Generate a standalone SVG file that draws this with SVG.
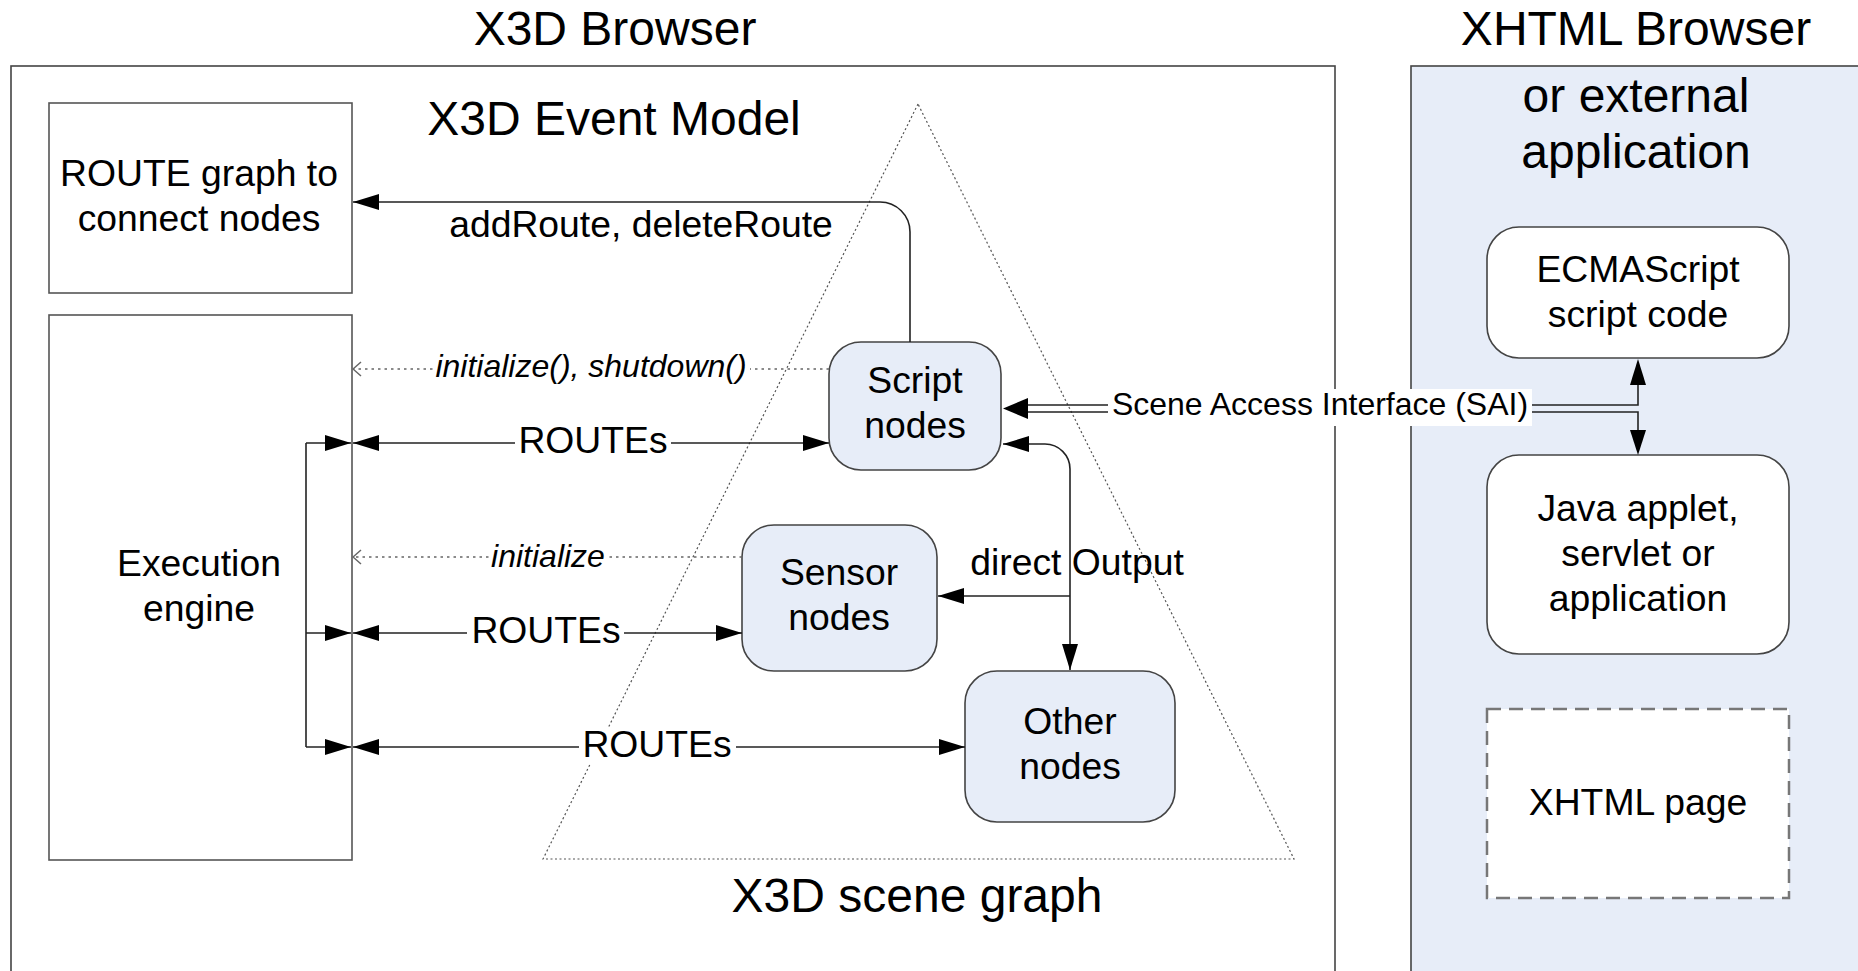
<svg xmlns="http://www.w3.org/2000/svg" width="1858" height="971" viewBox="0 0 1858 971">
<style>
text{font-family:"Liberation Sans",Arial,sans-serif;fill:#000}
.title{font-size:48px}
.node{font-size:37.3px;text-anchor:middle}
.lbl{font-size:37.3px;text-anchor:middle}
.it{font-size:32px;font-style:italic;text-anchor:middle}
.box{fill:#fff;stroke:#555;stroke-width:1.6}
.rnode{fill:#e7edf8;stroke:#444;stroke-width:1.6}
.wnode{fill:#fff;stroke:#444;stroke-width:1.6}
.ln{fill:none;stroke:#222;stroke-width:1.6}
.dot{fill:none;stroke:#666;stroke-width:1.5;stroke-dasharray:2.5,4}
.bg{fill:#fff}
</style>
<defs>
<marker id="ah" markerUnits="userSpaceOnUse" markerWidth="26" markerHeight="16" refX="26" refY="8" orient="auto-start-reverse" viewBox="0 0 26 16">
<path d="M0,0 L26,8 L0,16 Z" fill="#000"/>
</marker>
<marker id="open" markerUnits="userSpaceOnUse" markerWidth="10" markerHeight="16" refX="9" refY="8" orient="auto" viewBox="0 0 10 16">
<path d="M1,1 L9,8 L1,15" fill="none" stroke="#666" stroke-width="1.5"/>
</marker>
</defs>

<g id="frames">
<rect x="11" y="66" width="1324" height="940" fill="#fff" stroke="#444" stroke-width="1.6"/>
<rect x="1411" y="66" width="470" height="940" fill="#e7edf8" stroke="#444" stroke-width="1.6"/>
<text class="title" x="615" y="45" text-anchor="middle">X3D Browser</text>
<text class="title" x="1636" y="45" text-anchor="middle">XHTML Browser</text>
<text class="title" x="1636" y="112" text-anchor="middle" font-size="47">or external</text>
<text class="title" x="1636" y="168" text-anchor="middle" font-size="47">application</text>
<text class="title" x="614" y="135" text-anchor="middle">X3D Event Model</text>
</g>

<g id="scene-graph">
<polygon points="918,104 543,859 1294,859" fill="none" stroke="#555" stroke-width="1.2" stroke-dasharray="2,2.5"/>
<text x="917" y="912" text-anchor="middle" font-size="48">X3D scene graph</text>
</g>

<g id="route-graph">
<rect class="box" x="49" y="103" width="303" height="190"/>
<text class="node" x="199" y="186">ROUTE graph to</text>
<text class="node" x="199" y="231">connect nodes</text>
</g>

<g id="execution-engine">
<rect class="box" x="49" y="315" width="303" height="545"/>
<text class="node" x="199" y="576">Execution</text>
<text class="node" x="199" y="621">engine</text>
</g>

<g id="script-nodes">
<rect class="rnode" x="829" y="342" width="172" height="128" rx="32"/>
<text class="node" x="915" y="393">Script</text>
<text class="node" x="915" y="438">nodes</text>
</g>

<g id="sensor-nodes">
<rect class="rnode" x="742" y="525" width="195" height="146" rx="32"/>
<text class="node" x="839" y="585">Sensor</text>
<text class="node" x="839" y="630">nodes</text>
</g>

<g id="other-nodes">
<rect class="rnode" x="965" y="671" width="210" height="151" rx="32"/>
<text class="node" x="1070" y="734">Other</text>
<text class="node" x="1070" y="779">nodes</text>
</g>

<g id="ecmascript">
<rect class="wnode" x="1487" y="227" width="302" height="131" rx="32"/>
<text class="node" x="1638" y="282">ECMAScript</text>
<text class="node" x="1638" y="327">script code</text>
</g>

<g id="java">
<rect class="wnode" x="1487" y="455" width="302" height="199" rx="32"/>
<text class="node" x="1638" y="521">Java applet,</text>
<text class="node" x="1638" y="566">servlet or</text>
<text class="node" x="1638" y="611">application</text>
</g>

<g id="xhtml-page">
<rect x="1487" y="709" width="302" height="189" fill="#fff" stroke="#777" stroke-width="2.5" stroke-dasharray="14,8"/>
<text class="node" x="1638" y="815" font-size="38">XHTML page</text>
</g>

<g id="connectors">
<path class="ln" d="M306,443 V747"/>
<path class="ln" d="M306,443 H351" marker-end="url(#ah)"/>
<path class="ln" d="M306,633 H351" marker-end="url(#ah)"/>
<path class="ln" d="M306,747 H351" marker-end="url(#ah)"/>
<path class="ln" d="M353,443 H829" marker-start="url(#ah)" marker-end="url(#ah)"/>
<path class="ln" d="M353,633 H742" marker-start="url(#ah)" marker-end="url(#ah)"/>
<path class="ln" d="M353,747 H965" marker-start="url(#ah)" marker-end="url(#ah)"/>
<path class="dot" d="M829,369 H353" marker-end="url(#open)"/>
<path class="dot" d="M742,557 H353" marker-end="url(#open)"/>
<path class="ln" d="M910,342 V232 A30,30 0 0 0 880,202 H353" marker-end="url(#ah)"/>
<path class="ln" d="M1070,670 V469 A25,25 0 0 0 1045,444 H1003" marker-start="url(#ah)" marker-end="url(#ah)"/>
<path class="ln" d="M1070,596 H938" marker-end="url(#ah)"/>
<path class="ln" d="M1025,405 H1110 M1025,412 H1110"/>
<polygon points="1003,408.5 1028,398 1028,419" fill="#000"/>
<path class="ln" d="M1530,405 H1638 V384"/>
<path class="ln" d="M1530,412 H1638 V431"/>
<polygon points="1638,359 1630,385 1646,385" fill="#000"/>
<polygon points="1638,455 1630,430 1646,430" fill="#000"/>
</g>

<g id="labels">
<text class="lbl" x="641" y="237">addRoute, deleteRoute</text>
<rect class="bg" x="515" y="424" width="156" height="36"/>
<text class="lbl" x="593" y="453">ROUTEs</text>
<rect class="bg" x="467" y="614" width="157" height="36"/>
<text class="lbl" x="546" y="643">ROUTEs</text>
<rect class="bg" x="579" y="728" width="157" height="36"/>
<text class="lbl" x="657" y="757">ROUTEs</text>
<rect class="bg" x="434" y="350" width="316" height="34"/>
<text class="it" x="591" y="377">initialize(), shutdown()</text>
<rect class="bg" x="489" y="540" width="117" height="32"/>
<text class="it" x="548" y="567">initialize</text>
<rect class="bg" x="1108" y="389" width="424" height="37"/>
<text x="1320" y="415" font-size="32" text-anchor="middle">Scene Access Interface (SAI)</text>
<text class="lbl" x="1077" y="575">direct Output</text>
</g>
</svg>
